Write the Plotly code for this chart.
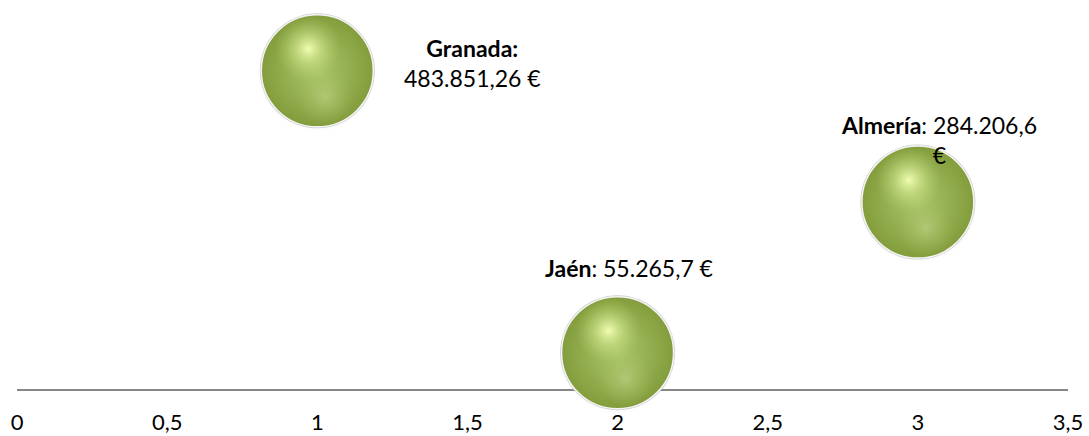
import plotly.graph_objects as go

# ---- data ----
provinces = ["Granada", "Jaén", "Almería"]
x_vals = [1, 2, 3]
amounts = [483851.26, 55265.7, 284206.6]
value_labels = ["483.851,26 €", "55.265,7 €", "284.206,6<br>€"]
label_templates = ["<b>{p}:</b><br>{v}", "<b>{p}</b>: {v}", "<b>{p}</b>: {v}"]
tick_vals = [0, 0.5, 1, 1.5, 2, 2.5, 3, 3.5]
tick_text = ["0", "0,5", "1", "1,5", "2", "2,5", "3", "3,5"]

# ---- layout constants ----
W, H = 1089, 436
ML, MR, MT, MB = 17, 21, 5, 47
X_RANGE = [0, 3.5]
Y_RANGE = [0, 584000]
plot_w = W - ML - MR
plot_h = H - MT - MB
ux = (X_RANGE[1] - X_RANGE[0]) / plot_w   # data units per px
uy = (Y_RANGE[1] - Y_RANGE[0]) / plot_h

FONT = "Lato, 'Open Sans', sans-serif"

fig = go.Figure()

def layer(dx_px, dy_px, size, edge, center=None, line=None):
    xs = [x + dx_px * ux for x in x_vals]
    ys = [y - dy_px * uy for y in amounts]
    marker = dict(size=size, color=edge)
    if center is not None:
        marker["gradient"] = dict(type="radial", color=center)
    marker["line"] = line if line else dict(width=0)
    fig.add_trace(go.Scatter(x=xs, y=ys, mode="markers", marker=marker,
                             hoverinfo="skip", cliponaxis=False, showlegend=False))

# soft shadow / rim
layer(0, 2, 119, "rgba(150,150,150,0)", "rgba(150,150,150,0.45)")
layer(0, 0, 115, "#cfcfcf")
layer(0, 0, 112, "#839d3d", "#aac667", dict(color="#f4f4f4", width=1.5))
# bottom reflection
layer(8, 26, 56, "rgba(170,195,105,0)", "rgba(195,214,140,0.6)")
# main highlight
layer(-9, -22, 66, "rgba(175,205,105,0)", "rgba(240,253,176,1)")

# labels
shifts = [(155, 8), (11, 85), (21, 62)]
for p, x, y, v, t, (sx, sy) in zip(provinces, x_vals, amounts, value_labels, label_templates, shifts):
    fig.add_annotation(x=x, y=y, text=t.format(p=p, v=v), showarrow=False,
                       xshift=sx, yshift=sy, align="center", xanchor="center", yanchor="middle",
                       font=dict(family=FONT, size=23, color="#000000"))

fig.update_layout(
    width=W, height=H,
    margin=dict(l=ML, r=MR, t=MT, b=MB, autoexpand=False),
    paper_bgcolor="white", plot_bgcolor="white",
    xaxis=dict(range=X_RANGE, tickvals=tick_vals, ticktext=tick_text,
               showgrid=False, zeroline=False, showline=True, automargin=False,
               linecolor="#878787", linewidth=1.5, ticks="", layer="below traces",
               tickfont=dict(family=FONT, size=22, color="#000000"),
               ticklabelstandoff=13),
    yaxis=dict(range=Y_RANGE, visible=False, showgrid=False, zeroline=False,
               automargin=False),
    font=dict(family=FONT),
)

fig.write_html("out.html", config={"displayModeBar": False},
               post_script="document.body.style.margin='0px';")
